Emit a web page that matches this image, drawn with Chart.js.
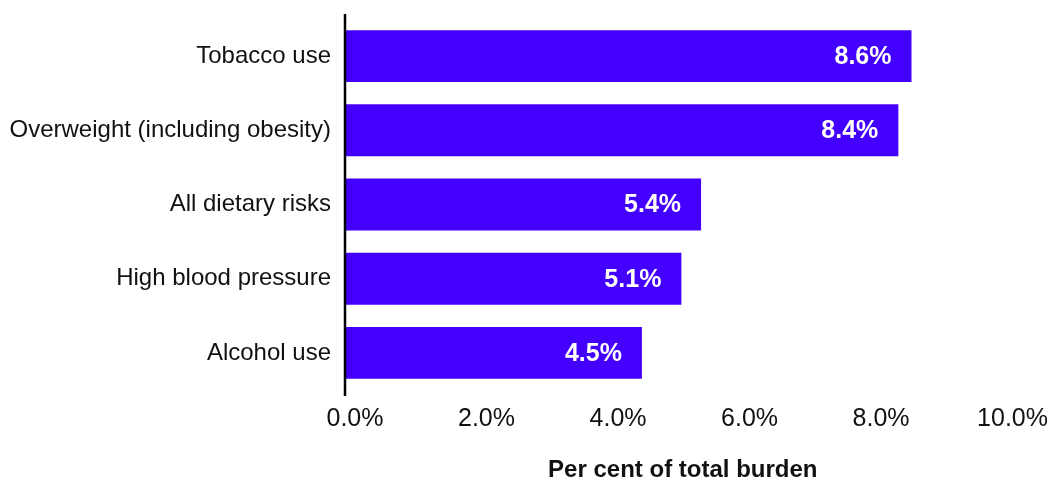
<!DOCTYPE html>
<html>
<head>
<meta charset="utf-8">
<script src="https://cdn.jsdelivr.net/npm/chart.js@4/dist/chart.umd.min.js"></script>
<style>
  html, body { margin: 0; padding: 0; background: #fff; }
  #wrap { width: 1053px; height: 480px; }
</style>
</head>
<body>
<div id="wrap"><canvas id="burden" width="1053" height="480"></canvas></div>
<script>
// risk factors, largest first
const risks = [
    'Tobacco use',
    'Overweight (including obesity)',
    'All dietary risks',
    'High blood pressure',
    'Alcohol use'
];
const shares = [8.6, 8.4, 5.4, 5.1, 4.5];
const xTicks = [0, 2, 4, 6, 8, 10];

const barColour = '#4400ff';
const fontFamily = '"Liberation Sans", Arial, sans-serif';

// white value labels inside the end of each bar + y axis line + axis title
const extras = {
    id: 'extras',
    afterDatasetsDraw(chart) {
        const ctx = chart.ctx;
        const meta = chart.getDatasetMeta(0);
        ctx.save();
        ctx.fillStyle = '#fff';
        ctx.font = 'bold 25px ' + fontFamily;
        ctx.textAlign = 'right';
        ctx.textBaseline = 'middle';
        meta.data.forEach((bar, i) => {
            ctx.fillText(shares[i].toFixed(1) + '%', bar.x - 20, bar.y + 1);
        });
        ctx.restore();
    },
    afterDraw(chart) {
        const ctx = chart.ctx;
        const area = chart.chartArea;
        ctx.save();
        ctx.strokeStyle = '#000';
        ctx.lineWidth = 2.5;
        ctx.beginPath();
        ctx.moveTo(area.left - 1, area.top - 5);
        ctx.lineTo(area.left - 1, area.bottom + 6);
        ctx.stroke();

        ctx.fillStyle = '#111';
        ctx.font = 'bold 24px ' + fontFamily;
        ctx.textAlign = 'center';
        ctx.textBaseline = 'middle';
        ctx.fillText('Per cent of total burden', (area.left + area.right) / 2 + 8, area.bottom + 80);
        ctx.restore();
    }
};

new Chart(document.getElementById('burden').getContext('2d'), {
    type: 'bar',
    data: {
        labels: risks,
        datasets: [{
            data: shares,
            backgroundColor: barColour,
            borderWidth: 0,
            categoryPercentage: 0.7,
            barPercentage: 1
        }]
    },
    options: {
        indexAxis: 'y',
        responsive: false,
        animation: false,
        layout: { padding: { top: 19, right: 49, bottom: 0, left: 0 } },
        plugins: {
            legend: { display: false },
            tooltip: { enabled: false }
        },
        scales: {
            x: {
                min: 0,
                max: 10,
                afterBuildTicks(scale) {
                    scale.ticks = xTicks.map(v => ({ value: v }));
                },
                afterFit(scale) { scale.height = 90; },
                grid: { display: false, drawTicks: false },
                border: { display: false },
                ticks: {
                    color: '#111',
                    font: { family: fontFamily, size: 25 },
                    padding: 14,
                    labelOffset: 9,
                    callback: v => v.toFixed(1) + '%'
                }
            },
            y: {
                afterFit(scale) {
                    scale.width = 346;
                    scale.paddingTop = 0;
                    scale.paddingBottom = 0;
                },
                grid: { display: false, drawTicks: false },
                border: { display: false },
                ticks: {
                    color: '#111',
                    font: { family: fontFamily, size: 24 },
                    padding: 15
                }
            }
        }
    },
    plugins: [extras]
});
</script>
</body>
</html>
